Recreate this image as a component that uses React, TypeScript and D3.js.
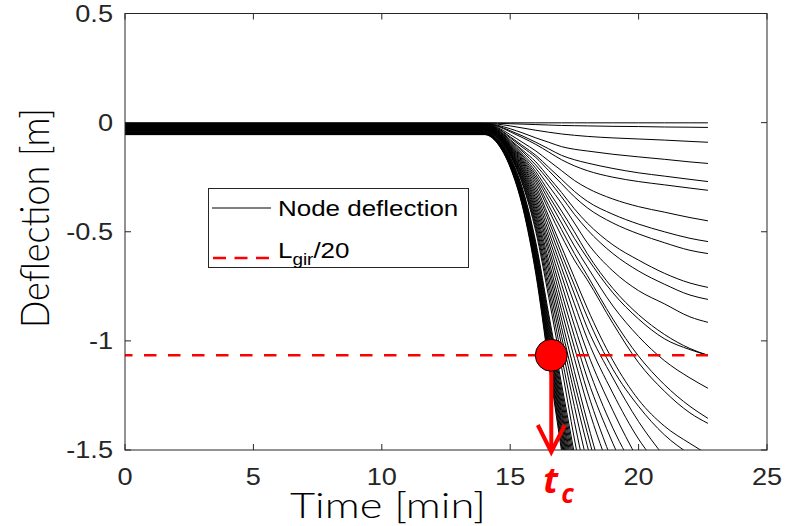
import React from "react";
import * as d3 from "d3";

// time grid shared by every node trace [min]
const timeMin = [0, 14, 14.5, 15, 15.5, 16, 16.5, 17, 17.5, 18, 19, 20, 21, 22, 22.7];

// nodes near the supports: still inside the plot at the end of the run [m]
const slowNodes = [
  [-0.001, -0.001, -0.001, -0.001, -0.001, -0.001, -0.001, -0.001, -0.001, -0.001, -0.001, -0.001, -0.001, -0.001, -0.001],
  [-0.002, -0.002, -0.003, -0.005, -0.007, -0.009, -0.011, -0.013, -0.014, -0.015, -0.017, -0.018, -0.02, -0.021, -0.022],
  [-0.004, -0.004, -0.007, -0.015, -0.025, -0.035, -0.044, -0.052, -0.058, -0.063, -0.07, -0.075, -0.08, -0.086, -0.09],
  [-0.005, -0.005, -0.012, -0.028, -0.048, -0.07, -0.09, -0.11, -0.122, -0.13, -0.145, -0.157, -0.168, -0.18, -0.187],
  [-0.006, -0.006, -0.015, -0.037, -0.062, -0.09, -0.12, -0.15, -0.17, -0.185, -0.21, -0.23, -0.245, -0.26, -0.27],
  [-0.007, -0.007, -0.017, -0.042, -0.07, -0.1, -0.135, -0.17, -0.198, -0.22, -0.25, -0.27, -0.285, -0.3, -0.31],
  [-0.008, -0.008, -0.022, -0.055, -0.092, -0.13, -0.175, -0.22, -0.265, -0.3, -0.35, -0.385, -0.41, -0.435, -0.45],
  [-0.009, -0.009, -0.025, -0.065, -0.107, -0.15, -0.205, -0.26, -0.315, -0.36, -0.42, -0.465, -0.5, -0.53, -0.545],
  [-0.01, -0.01, -0.027, -0.07, -0.115, -0.16, -0.22, -0.28, -0.34, -0.39, -0.46, -0.51, -0.55, -0.585, -0.6],
  [-0.011, -0.011, -0.03, -0.078, -0.128, -0.18, -0.25, -0.32, -0.395, -0.46, -0.56, -0.63, -0.69, -0.735, -0.755],
  [-0.012, -0.012, -0.032, -0.083, -0.135, -0.195, -0.265, -0.34, -0.42, -0.49, -0.6, -0.68, -0.74, -0.79, -0.81],
  [-0.013, -0.013, -0.034, -0.088, -0.145, -0.21, -0.29, -0.37, -0.46, -0.55, -0.68, -0.77, -0.83, -0.89, -0.915],
  [-0.014, -0.014, -0.036, -0.092, -0.153, -0.225, -0.315, -0.405, -0.5, -0.6, -0.76, -0.88, -0.97, -1.035, -1.066],
  [-0.015, -0.015, -0.038, -0.096, -0.16, -0.238, -0.335, -0.43, -0.53, -0.62, -0.78, -0.9, -0.99, -1.04, -1.066],
  [-0.016, -0.016, -0.04, -0.1, -0.167, -0.25, -0.355, -0.46, -0.565, -0.66, -0.84, -0.98, -1.09, -1.17, -1.217],
  [-0.017, -0.017, -0.042, -0.104, -0.174, -0.262, -0.38, -0.49, -0.6, -0.7, -0.9, -1.07, -1.2, -1.3, -1.355],
  [-0.018, -0.018, -0.044, -0.107, -0.18, -0.275, -0.4, -0.52, -0.63, -0.72, -0.92, -1.1, -1.23, -1.33, -1.378],
];

// nodes that leave the plot between 17.5 and 22.7 min
const midNodes = [
  [-0.02, -0.02, -0.046, -0.11, -0.186, -0.29, -0.43, -0.57, -0.71, -0.85, -1.09, -1.27, -1.39, -1.47, -1.52],
  [-0.021, -0.021, -0.047, -0.113, -0.193, -0.305, -0.45, -0.6, -0.745, -0.89, -1.13, -1.3, -1.43, -1.52],
  [-0.022, -0.022, -0.049, -0.116, -0.2, -0.32, -0.475, -0.63, -0.785, -0.94, -1.17, -1.37, -1.53],
  [-0.023, -0.023, -0.05, -0.119, -0.208, -0.335, -0.5, -0.665, -0.83, -0.99, -1.24, -1.45, -1.6],
  [-0.024, -0.024, -0.052, -0.122, -0.215, -0.35, -0.525, -0.7, -0.88, -1.05, -1.32, -1.55],
  [-0.025, -0.025, -0.054, -0.125, -0.223, -0.365, -0.55, -0.74, -0.93, -1.11, -1.4, -1.62],
  [-0.027, -0.027, -0.055, -0.128, -0.23, -0.38, -0.575, -0.78, -0.98, -1.17, -1.47, -1.72],
  [-0.028, -0.028, -0.057, -0.131, -0.238, -0.395, -0.6, -0.82, -1.03, -1.23, -1.56],
  [-0.029, -0.029, -0.058, -0.134, -0.245, -0.41, -0.63, -0.86, -1.08, -1.29, -1.63],
  [-0.03, -0.03, -0.06, -0.137, -0.253, -0.425, -0.655, -0.9, -1.14, -1.37, -1.78],
  [-0.031, -0.031, -0.062, -0.14, -0.26, -0.44, -0.68, -0.94, -1.19, -1.42, -1.85],
  [-0.032, -0.032, -0.063, -0.142, -0.268, -0.455, -0.71, -0.98, -1.24, -1.48, -1.9],
  [-0.034, -0.034, -0.065, -0.145, -0.275, -0.47, -0.74, -1.02, -1.3, -1.56],
  [-0.035, -0.035, -0.066, -0.148, -0.283, -0.485, -0.77, -1.07, -1.37, -1.65],
  [-0.036, -0.036, -0.068, -0.15, -0.29, -0.5, -0.8, -1.12, -1.45, -1.75],
];

// midspan nodes: the steep bundle around 16-17.5 min
const fastNodes = [
  [-0.038, -0.038, -0.07, -0.158, -0.31, -0.55, -0.878, -1.198, -1.518],
  [-0.04, -0.04, -0.073, -0.162, -0.317, -0.562, -0.896, -1.222, -1.548],
  [-0.042, -0.042, -0.075, -0.167, -0.325, -0.574, -0.915, -1.247, -1.579],
  [-0.044, -0.044, -0.078, -0.171, -0.332, -0.585, -0.932, -1.271, -1.609],
  [-0.046, -0.046, -0.08, -0.175, -0.339, -0.598, -0.951, -1.296, -1.641],
  [-0.047, -0.047, -0.082, -0.179, -0.345, -0.608, -0.968, -1.319, -1.669],
  [-0.048, -0.048, -0.084, -0.182, -0.351, -0.619, -0.985, -1.341, -1.698],
  [-0.049, -0.049, -0.085, -0.185, -0.358, -0.63, -1.002, -1.366, -1.729],
  [-0.05, -0.05, -0.087, -0.188, -0.364, -0.641, -1.019, -1.388, -1.758],
  [-0.051, -0.051, -0.089, -0.192, -0.37, -0.651, -1.036, -1.411, -1.786],
  [-0.052, -0.052, -0.09, -0.195, -0.376, -0.663, -1.054, -1.435, -1.817],
  [-0.053, -0.053, -0.092, -0.199, -0.383, -0.674, -1.072, -1.46, -1.848],
  [-0.054, -0.054, -0.093, -0.202, -0.389, -0.684, -1.088, -1.482, -1.876],
  [-0.055, -0.055, -0.095, -0.205, -0.395, -0.695, -1.105, -1.505, -1.905],
];

const xTicks = [0, 5, 10, 15, 20, 25];
const yTicks = [0.5, 0, -0.5, -1, -1.5];
const limitDeflection = -1.066; // L_gir / 20
const limitEnd = 22.7;
const criticalTime = 16.6;

const W = 787;
const H = 526;
const left = 125;
const right = 767;
const top = 13.5;
const bottom = 450;
const axisColor = "#262626";
const stretch = 1.18; // the original figure is widened a bit
const tickFont = "'Liberation Sans', Arial, sans-serif";
const labelFont = "Lato, 'Open Sans', sans-serif";

export default function App() {
  const x = d3.scaleLinear().domain([0, 25]).range([left, right]);
  const y = d3.scaleLinear().domain([-1.5, 0.5]).range([bottom, top]);

  const line = d3
    .line<number>()
    .x((_, i) => x(timeMin[i]))
    .y((d) => y(d))
    .curve(d3.curveMonotoneX);

  const allNodes = [...slowNodes, ...midNodes, ...fastNodes];
  const cx = x(criticalTime);
  const cy = y(limitDeflection);

  return (
    <div style={{ position: "absolute", left: 0, top: 0 }}>
      <svg width={W} height={H} style={{ display: "block", background: "#fff" }}>
        <defs>
          <clipPath id="plot-area">
            <rect x={left} y={top} width={right - left} height={bottom - top} />
          </clipPath>
        </defs>

        {/* node traces */}
        <g clipPath="url(#plot-area)" fill="none" stroke="#000" strokeWidth={1}>
          {allNodes.map((d, i) => (
            <path key={i} d={line(d) ?? ""} />
          ))}
        </g>

        {/* L_gir/20 limit */}
        <line
          x1={x(0)}
          x2={x(limitEnd)}
          y1={cy}
          y2={cy}
          stroke="red"
          strokeWidth={2.6}
          strokeDasharray="12.5 11.5"
          strokeDashoffset={5}
        />

        {/* axes box + ticks */}
        <g stroke={axisColor} strokeWidth={1} fill="none">
          <rect x={left} y={top} width={right - left} height={bottom - top} />
          {xTicks.map((t) => (
            <g key={t}>
              <line x1={x(t)} x2={x(t)} y1={bottom} y2={bottom - 6} />
              <line x1={x(t)} x2={x(t)} y1={top} y2={top + 6} />
            </g>
          ))}
          {yTicks.map((t) => (
            <g key={t}>
              <line x1={left} x2={left + 6} y1={y(t)} y2={y(t)} />
              <line x1={right} x2={right - 6} y1={y(t)} y2={y(t)} />
            </g>
          ))}
        </g>

        <g fill={axisColor} fontFamily={tickFont} fontSize={23}>
          {xTicks.map((t) => (
            <text key={t} transform={`translate(${x(t)},485) scale(${stretch},1)`} textAnchor="middle">
              {t}
            </text>
          ))}
          {yTicks.map((t) => (
            <text key={t} transform={`translate(113,${y(t) + 8.3}) scale(${stretch},1)`} textAnchor="end">
              {t}
            </text>
          ))}
        </g>

        {/* axis titles */}
        <text
          x={388}
          y={518}
          textAnchor="middle"
          fontFamily={labelFont}
          fontWeight={300}
          fontSize={36}
          textLength={196}
          lengthAdjust="spacingAndGlyphs"
          fill="#000"
        >
          Time [min]
        </text>
        <text
          transform="translate(49,218) rotate(-90)"
          textAnchor="middle"
          fontFamily={labelFont}
          fontWeight={300}
          fontSize={40}
          textLength={220}
          lengthAdjust="spacingAndGlyphs"
          fill="#000"
        >
          Deflection [m]
        </text>

        {/* legend */}
        <g>
          <rect x={208.5} y={188.5} width={260} height={79} fill="#fff" stroke={axisColor} strokeWidth={1} />
          <line x1={212} x2={271} y1={208} y2={208} stroke="#000" strokeWidth={1} />
          <text transform={`translate(278,216) scale(${stretch},1)`} fontFamily={tickFont} fontSize={22} fill="#000">
            Node deflection
          </text>
          <line x1={213} x2={271} y1={258} y2={258} stroke="red" strokeWidth={2.6} strokeDasharray="13 8.5" />
          <text transform={`translate(278,258) scale(${stretch},1)`} fontFamily={tickFont} fontSize={22} fill="#000">
            L
            <tspan fontSize={16} dy={7}>gir</tspan>
            <tspan fontSize={22} dy={-7}>/20</tspan>
          </text>
        </g>

        {/* critical time marker */}
        <g stroke="red" strokeWidth={4} fill="none" strokeLinecap="butt">
          <line x1={cx} x2={cx} y1={cy} y2={bottom} />
          <polyline points={`${cx - 13.5},${bottom - 25} ${cx},${bottom + 2} ${cx + 13.5},${bottom - 25}`} />
        </g>
        <circle cx={cx} cy={cy} r={16} fill="red" stroke="#000" strokeWidth={1} />
        <g fill="red" fontFamily="'Open Sans', 'DejaVu Sans', sans-serif" fontWeight="bold" fontStyle="italic">
          <text x={cx - 8} y={493} fontSize={36}>t</text>
          <text x={cx + 10} y={503} fontSize={26}>c</text>
        </g>
      </svg>
    </div>
  );
}
